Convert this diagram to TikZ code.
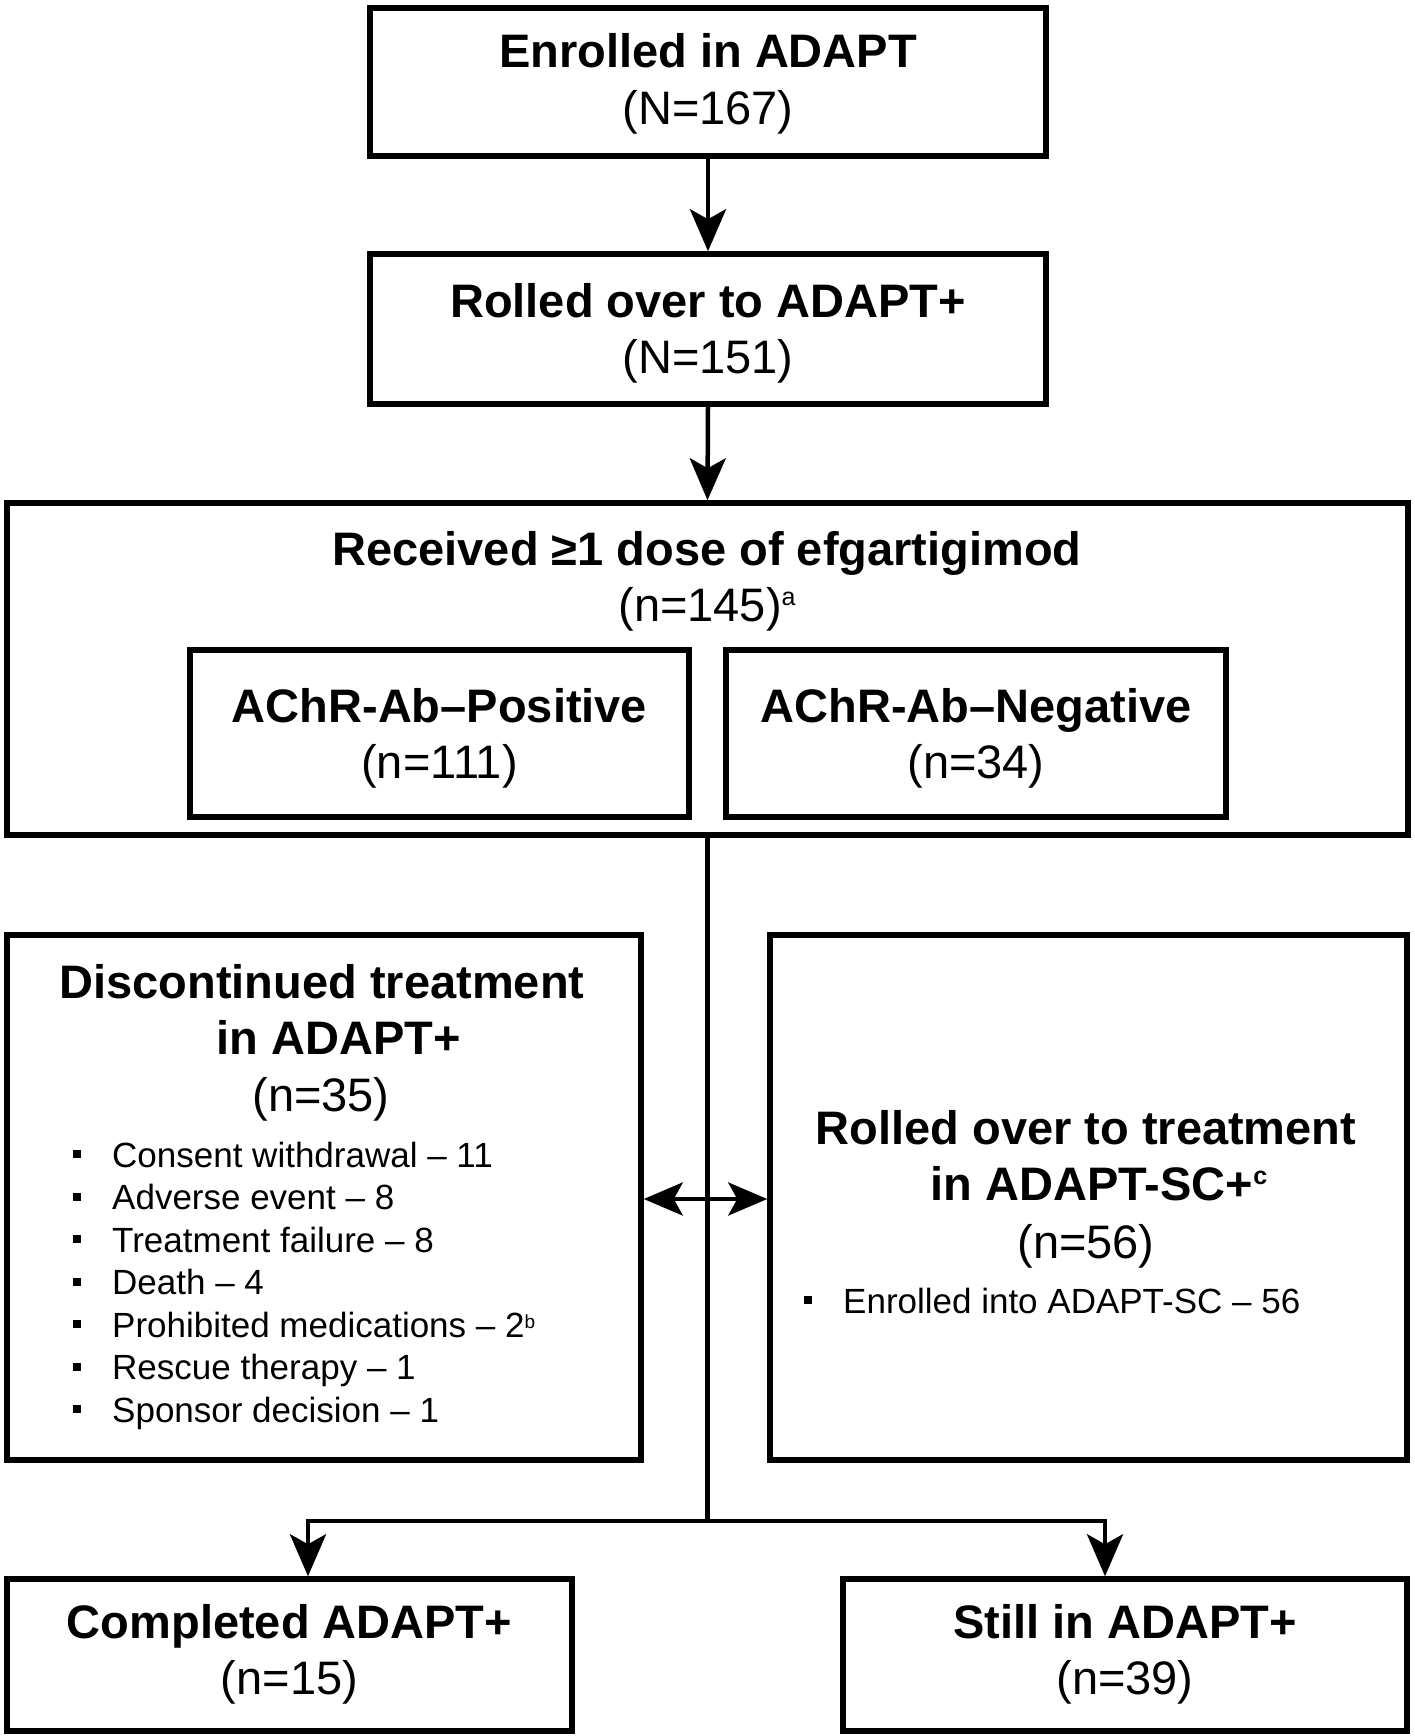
\documentclass[tikz,border=0pt]{standalone}
\usepackage{fontspec}
\setmainfont{Liberation Sans}
\usetikzlibrary{arrows.meta}
\newcommand{\supa}[1]{\raisebox{16pt}{\fontsize{25}{25}\selectfont #1}}
\newcommand{\supb}[1]{\raisebox{9pt}{\fontsize{19}{19}\selectfont #1}}
\tikzset{
  box/.style={draw, line width=5.5pt, inner sep=0pt, rectangle},
  tb/.style={font=\fontsize{47}{57}\selectfont\bfseries, inner sep=0pt, anchor=base},
  tr/.style={font=\fontsize{47}{57}\selectfont, inner sep=0pt, anchor=base},
  li/.style={font=\fontsize{35}{42}\selectfont, inner sep=0pt, anchor=base west},
  bul/.style={fill, inner sep=0pt, minimum size=8pt, rectangle},
  conn/.style={line width=4.5pt},
  arr/.style={conn, -{Stealth[length=42pt,width=36pt,inset=10pt]}},
  darr/.style={conn, {Stealth[length=39pt,width=33pt,inset=9pt]}-{Stealth[length=39pt,width=33pt,inset=9pt]}}
}
\begin{document}
\begin{tikzpicture}[x=1pt,y=1pt]
\useasboundingbox (0,0) rectangle (1414,-1736);
% boxes
\node[box, minimum width=676pt, minimum height=148pt] (b1) at (708,-82) {};
\node[box, minimum width=676pt, minimum height=150pt] (b2) at (708,-329) {};
\node[box, minimum width=1401pt, minimum height=332pt] (b3) at (707.5,-669) {};
\node[box, minimum width=499pt, minimum height=167pt] (pos) at (439.5,-733.5) {};
\node[box, minimum width=500pt, minimum height=167pt] (neg) at (976,-733.5) {};
\node[box, minimum width=634pt, minimum height=525pt] (disc) at (324,-1197.5) {};
\node[box, minimum width=637pt, minimum height=525pt] (roll) at (1088.5,-1197.5) {};
\node[box, minimum width=565pt, minimum height=152pt] (comp) at (289.5,-1655) {};
\node[box, minimum width=564pt, minimum height=152pt] (still) at (1125,-1655) {};
% texts
\node[tb] (t1a) at (708,-68) {Enrolled in ADAPT};
\node[tr] (t1b) at (708,-125) {(N=167)};
\node[tb] (t2a) at (708,-317) {Rolled over to ADAPT+};
\node[tr] (t2b) at (708,-373) {(N=151)};
\node[tb] (t3a) at (707,-565) {Received ≥1 dose of efgartigimod};
\node[tr] (t3b) at (707,-621) {(n=145)\supa{a}};
\node[tb] (tpa) at (439.5,-722) {AChR-Ab–Positive};
\node[tr] (tpb) at (439.5,-778) {(n=111)};
\node[tb] (tna) at (976,-722) {AChR-Ab–Negative};
\node[tr] (tnb) at (976,-778) {(n=34)};
\node[tb] (tda) at (322,-998) {Discontinued treatment};
\node[tb] (tdb) at (339,-1054) {in ADAPT+};
\node[tr] (tdc) at (321,-1111) {(n=35)};
\foreach \t [count=\i from 0] in {Consent withdrawal – 11, Adverse event – 8, Treatment failure – 8, Death – 4, Prohibited medications – 2\supb{b}, Rescue therapy – 1, Sponsor decision – 1}{
  \node[bul] (db\i) at (77,-1154-42.5*\i) {};
  \node[li] (dl\i) at (112,-1167-42.5*\i) {\t};
}
\node[tb] (tra) at (1086,-1144) {Rolled over to treatment};
\node[tb] (trb) at (1099,-1200) {in ADAPT-SC+\supa{c}};
\node[tr] (trc) at (1086,-1258) {(n=56)};
\node[bul] (rb0) at (808,-1300) {};
\node[li] (rl0) at (843,-1313) {Enrolled into ADAPT-SC – 56};
\node[tb] (tca) at (289.5,-1638) {Completed ADAPT+};
\node[tr] (tcb) at (289.5,-1694) {(n=15)};
\node[tb] (tsa) at (1125,-1638) {Still in ADAPT+};
\node[tr] (tsb) at (1125,-1694) {(n=39)};
% connectors
\draw[arr] (b1.south) -- (b2.north);
\draw[arr] (b2.south) -- (b3.north);
\coordinate (j) at (707.5,-1521);
\coordinate (jl) at (308,-1521);
\coordinate (jr) at (1105,-1521);
\coordinate (da) at (707.5,-1199);
\draw[conn] (b3.south) -- (j);
\draw[conn, line join=miter] (j) -- (jl);
\draw[conn, line join=miter] (j) -- (jr);
\draw[arr] ([xshift=-2.25pt]jl) -- ++(2.25pt,0) -- (jl |- comp.north);
\draw[arr] ([xshift=2.25pt]jr) -- ++(-2.25pt,0) -- (jr |- still.north);
\draw[darr] (da -| disc.east) -- (da -| roll.west);
\end{tikzpicture}
\end{document}
